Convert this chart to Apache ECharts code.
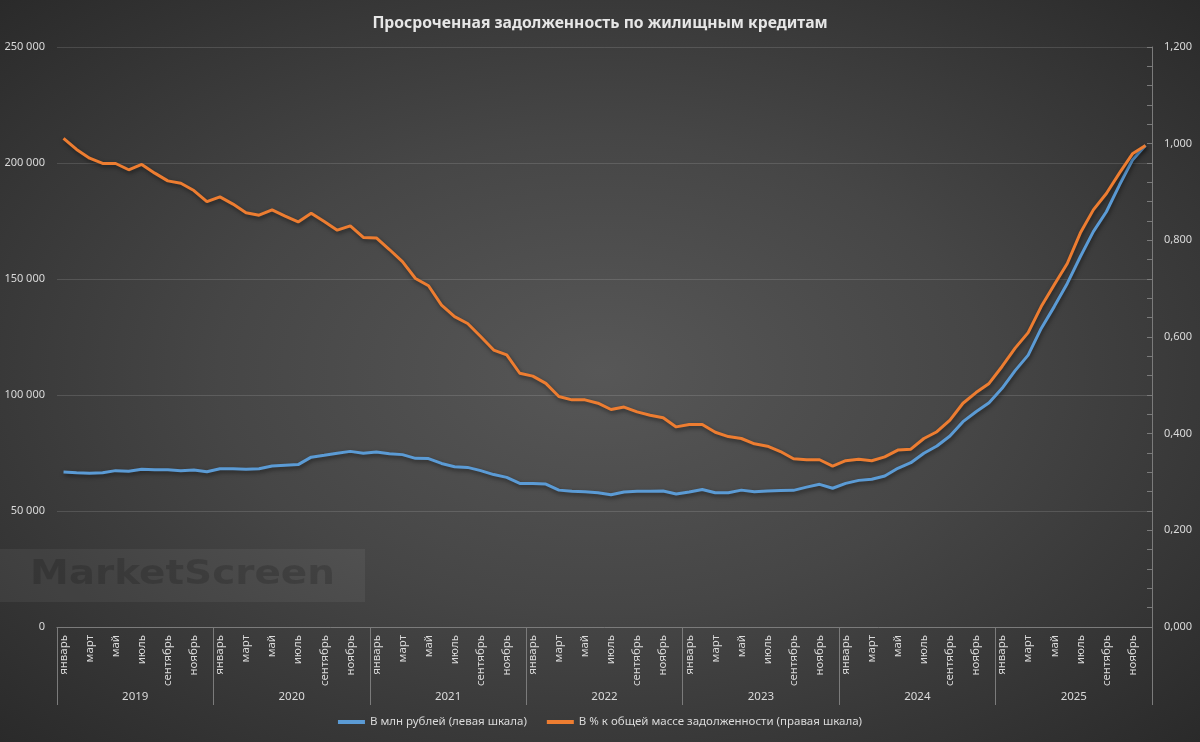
<!DOCTYPE html>
<html>
<head>
<meta charset="utf-8">
<script src="https://cdn.jsdelivr.net/npm/echarts@6/dist/echarts.min.js"></script>
<style>
html,body{margin:0;padding:0;}
#chart{width:1200px;height:742px;background:radial-gradient(ellipse at 50% 50%, #575757 0%, #464646 45%, #2a2a2a 100%);}
</style>
</head>
<body>
<div id="chart"></div>
<script>
const titleText = 'Просроченная задолженность по жилищным кредитам';
const years = ['2019','2020','2021','2022','2023','2024','2025'];
const monthNames = ['январь','февраль','март','апрель','май','июнь','июль','август','сентябрь','октябрь','ноябрь','декабрь'];
const seriesNames = ['В млн рублей (левая шкала)', 'В % к общей массе задолженности (правая шкала)'];
const leftTicks = [0, 50000, 100000, 150000, 200000, 250000];
const rightTicks = [0, 0.2, 0.4, 0.6, 0.8, 1.0, 1.2];

const rubMln = [
  66800, 66500, 66300, 66500, 67400, 67100, 68000, 67800, 67800, 67400, 67700, 66900,
  68200, 68200, 68000, 68200, 69400, 69700, 70000, 73200, 74000, 74900, 75700, 74900,
  75400, 74700, 74300, 72700, 72600, 70500, 69100, 68800, 67400, 65700, 64500, 61900,
  61900, 61600, 59000, 58500, 58300, 57900, 57000, 58200, 58500, 58500, 58600, 57300,
  58200, 59300, 57900, 57900, 59000, 58300, 58600, 58800, 58900, 60300, 61500, 59800,
  61900, 63200, 63700, 65100, 68400, 70800, 74900, 78000, 82300, 88500, 92800, 96700,
  102900, 110500, 117200, 128700, 138100, 148100, 159600, 170400, 179000, 190500, 201300, 207500
];
const sharePct = [
  1.011, 0.988, 0.970, 0.959, 0.959, 0.946, 0.957, 0.939, 0.923, 0.918, 0.903, 0.880,
  0.890, 0.875, 0.857, 0.852, 0.863, 0.850, 0.838, 0.856, 0.839, 0.821, 0.830, 0.806,
  0.805, 0.781, 0.756, 0.721, 0.706, 0.666, 0.642, 0.628, 0.601, 0.573, 0.563, 0.525,
  0.519, 0.504, 0.477, 0.470, 0.470, 0.463, 0.450, 0.455, 0.445, 0.438, 0.433, 0.414,
  0.419, 0.419, 0.403, 0.394, 0.390, 0.379, 0.374, 0.363, 0.348, 0.346, 0.346, 0.333,
  0.344, 0.347, 0.344, 0.352, 0.366, 0.368, 0.390, 0.404, 0.428, 0.463, 0.485, 0.504,
  0.539, 0.577, 0.609, 0.663, 0.708, 0.752, 0.815, 0.863, 0.897, 0.939, 0.979, 0.996
];

const categories = [];
years.forEach(y => monthNames.forEach((m, i) => categories.push(y + '|' + i)));

const txt = '#dadada';
const lineGray = '#7b7b7b';
const gridGray = 'rgba(255,255,255,0.13)';
const font = 'Noto Sans';

const chart = echarts.init(document.getElementById('chart'), null, {renderer: 'canvas'});
chart.setOption({
  backgroundColor: 'transparent',
  textStyle: {fontFamily: font},
  title: {
    text: titleText, left: 'center', top: 11,
    textStyle: {color: '#e6e6e6', fontSize: 15.7, fontWeight: 'bold', fontFamily: font}
  },
  legend: {
    bottom: 9, left: 'center', itemWidth: 27, itemHeight: 4, itemGap: 20, icon: 'rect',
    textStyle: {color: txt, fontSize: 11.5, fontFamily: font},
    data: seriesNames
  },
  grid: {left: 57, right: 48, top: 47, bottom: 115, containLabel: false},
  xAxis: [{
    type: 'category', data: categories, boundaryGap: true, position: 'bottom',
    axisLine: {show: true, lineStyle: {color: lineGray, width: 1}},
    axisTick: {show: false},
    axisLabel: {
      color: txt, fontSize: 11.5, rotate: 90, margin: 8, interval: 1,
      formatter: v => monthNames[+v.split('|')[1]]
    },
    splitLine: {show: false}
  }, {
    type: 'category', data: years, boundaryGap: true, position: 'bottom',
    axisLine: {show: false},
    axisTick: {show: true, length: 78, lineStyle: {color: lineGray, width: 1}},
    axisLabel: {color: txt, fontSize: 11.5, margin: 64, interval: 0},
    splitLine: {show: false}
  }],
  yAxis: [{
    type: 'value', min: leftTicks[0], max: leftTicks[leftTicks.length - 1], interval: leftTicks[1] - leftTicks[0],
    axisLine: {show: false}, axisTick: {show: false},
    axisLabel: {color: txt, fontSize: 11, margin: 12,
      formatter: v => String(v).replace(/\B(?=(\d{3})+(?!\d))/g, ' ')},
    splitLine: {show: true, lineStyle: {color: gridGray, width: 1}}
  }, {
    type: 'value', min: rightTicks[0], max: rightTicks[rightTicks.length - 1], interval: rightTicks[1] - rightTicks[0],
    position: 'right',
    axisLine: {show: true, lineStyle: {color: lineGray, width: 1}},
    axisTick: {show: true, inside: true, length: 5, lineStyle: {color: lineGray}},
    minorTick: {show: true, splitNumber: 5, length: 5, lineStyle: {color: lineGray}},
    axisLabel: {color: txt, fontSize: 11, margin: 12,
      formatter: v => v.toFixed(3).replace('.', ',')},
    splitLine: {show: false}
  }],
  graphic: [{
    type: 'rect', left: 0, top: 549, shape: {width: 365, height: 53},
    style: {fill: 'rgba(255,255,255,0.055)'}, z: 1
  }, {
    type: 'text', x: 30, y: 559, scaleX: 1.18,
    style: {text: 'MarketScreen', fill: 'rgba(0,0,0,0.16)', font: 'bold 33px "DejaVu Sans"'}, z: 1
  }],
  series: [{
    name: seriesNames[0], type: 'line', xAxisIndex: 0, yAxisIndex: 0, data: rubMln,
    showSymbol: false, symbol: 'none', smooth: false, z: 3,
    lineStyle: {color: '#5B9BD5', width: 3, shadowColor: 'rgba(0,0,0,0.5)', shadowBlur: 4, shadowOffsetY: 2, shadowOffsetX: 1},
    itemStyle: {color: '#5B9BD5'}
  }, {
    name: seriesNames[1], type: 'line', xAxisIndex: 0, yAxisIndex: 1, data: sharePct,
    showSymbol: false, symbol: 'none', smooth: false, z: 4,
    lineStyle: {color: '#ED7D31', width: 3, shadowColor: 'rgba(0,0,0,0.5)', shadowBlur: 4, shadowOffsetY: 2, shadowOffsetX: 1},
    itemStyle: {color: '#ED7D31'}
  }]
});
</script>
</body>
</html>
